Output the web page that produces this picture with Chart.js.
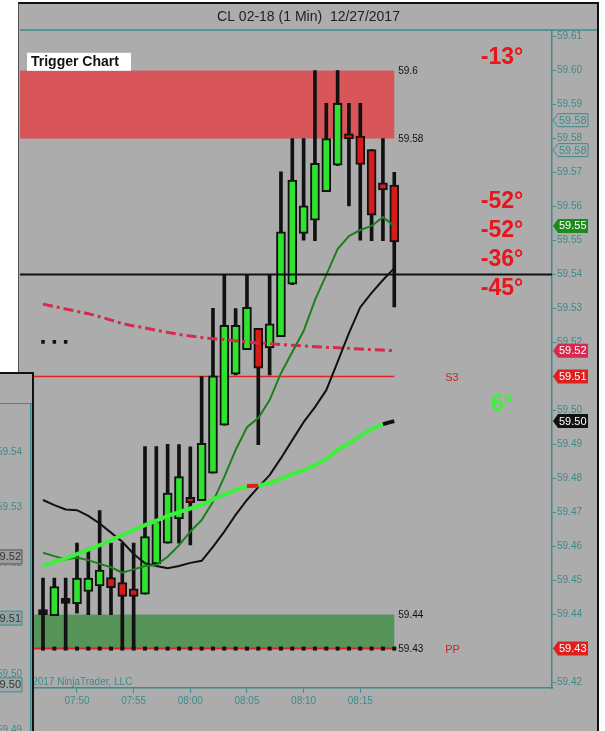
<!DOCTYPE html>
<html>
<head>
<meta charset="utf-8">
<script src="https://cdn.jsdelivr.net/npm/chart.js@4.4.1/dist/chart.umd.min.js"></script>
<style>
  html, body { margin: 0; padding: 0; background: #fff; }
  body { width: 605px; height: 731px; overflow: hidden; position: relative; }
  #win { position: absolute; left: 18px; top: 2px; width: 578px; height: 740px; background: #acacac;
         border-top: 2px solid #111; border-right: 2px solid #111; border-left: 1px solid #555; }
  #main { position: absolute; left: 1px; top: 0; }
  #side { position: absolute; left: 0; top: 372px; width: 32px; height: 370px; background: #acacac;
          border-top: 2px solid #111; border-right: 2px solid #111; overflow: hidden; z-index: 2; }
  #sideBar { position: absolute; left: 0; top: 29px; width: 32px; height: 1px; background: #3d8b8b; }
  #sideCv { position: absolute; left: -40px; top: 30px; }
</style>
</head>
<body>
<div id="win"><canvas id="main" width="577" height="727"></canvas></div>
<div id="side"><div id="sideBar"></div><canvas id="sideCv" width="73" height="327"></canvas></div>
<script>
// 1 minute bars, CL 02-18
const times = ['07:47','07:48','07:49','07:50','07:51','07:52','07:53','07:54','07:55','07:56',
               '07:57','07:58','07:59','08:00','08:01','08:02','08:03','08:04','08:05','08:06',
               '08:07','08:08','08:09','08:10','08:11','08:12','08:13','08:14','08:15','08:16',
               '08:17','08:18'];
const opens  = [59.4400,59.4397,59.4433,59.4432,59.4468,59.4484,59.4509,59.4494,59.4476,59.4460,
                59.4549,59.4610,59.4681,59.4745,59.4735,59.4816,59.4957,59.5107,59.5179,59.5242,
                59.5184,59.5217,59.5372,59.5521,59.5560,59.5644,59.5722,59.5813,59.5807,59.5768,
                59.5670,59.5663];
const highs  = [59.4507,59.4507,59.4507,59.4610,59.4595,59.4706,59.4610,59.4610,59.4610,59.4894,
                59.4894,59.4901,59.4900,59.4893,59.5100,59.5301,59.5400,59.5300,59.5400,59.5242,
                59.5400,59.5702,59.5800,59.5800,59.6000,59.5904,59.6000,59.5904,59.5904,59.5768,
                59.5800,59.5701];
const lows   = [59.4300,59.4397,59.4300,59.4404,59.4400,59.4400,59.4400,59.4300,59.4300,59.4460,
                59.4545,59.4610,59.4610,59.4605,59.4735,59.4816,59.4957,59.5105,59.5179,59.4900,
                59.5105,59.5217,59.5370,59.5501,59.5500,59.5644,59.5720,59.5602,59.5501,59.5500,
                59.5500,59.5305];
const closes = [59.4400,59.4482,59.4433,59.4507,59.4507,59.4531,59.4479,59.4453,59.4453,59.4629,
                59.4676,59.4757,59.4806,59.4729,59.4904,59.5102,59.5251,59.5251,59.5304,59.5125,
                59.5255,59.5526,59.5678,59.5602,59.5727,59.5800,59.5904,59.5799,59.5724,59.5575,
                59.5649,59.5496];

// indicator lines
const fastAvg  = [59.4582,59.4572,59.4562,59.4568,59.4560,59.4549,59.4539,59.4523,59.4533,59.4543,
                  59.4546,59.4570,59.4604,59.4644,59.4678,59.4732,59.4805,59.4884,59.4951,59.4978,
                  59.5031,59.5110,59.5172,59.5234,59.5325,59.5399,59.5475,59.5513,59.5531,59.5543,
                  59.5569,59.5543];
const midAvg   = [59.4737,59.4722,59.4709,59.4707,59.4690,59.4668,59.4641,59.4614,59.4578,59.4551,
                  59.4543,59.4536,59.4543,59.4552,59.4558,59.4599,59.4644,59.4693,59.4737,59.4775,
                  59.4810,59.4860,59.4913,59.4966,59.5010,59.5060,59.5143,59.5228,59.5304,59.5346,
                  59.5384,59.5419];
const trendAvg = [59.4543,59.4554,59.4565,59.4578,59.4591,59.4604,59.4619,59.4634,59.4649,59.4663,
                  59.4676,59.4690,59.4701,59.4712,59.4722,59.4739,59.4753,59.4766,59.4778,59.4779,
                  59.4787,59.4799,59.4813,59.4825,59.4840,59.4857,59.4884,59.4904,59.4925,59.4946,
                  59.4960,59.4969];
const slowAvg  = [59.5313,59.5306,59.5299,59.5292,59.5285,59.5276,59.5266,59.5256,59.5249,59.5243,
                  59.5236,59.5230,59.5224,59.5219,59.5215,59.5211,59.5209,59.5205,59.5202,59.5199,
                  59.5197,59.5194,59.5192,59.5190,59.5188,59.5186,59.5185,59.5183,59.5181,59.5179,
                  59.5178,59.5176];
const dotMarks = [59.5202, 59.5202, 59.5202];

// levels
const redZone = [59.58, 59.60];
const greenZone = [59.43, 59.44];
const crossLevel = 59.54;
const pivotLevels = [59.51, 59.43];
const pivotNames = ['S3', 'PP'];
const angleTexts = ['-13°', '-52°', '-52°', '-36°', '-45°', '6°'];
const outlineMarks = [59.5854, 59.5766];
const outlineMarkLabels = ['59.58', '59.58'];

// axes
const yTicks = [59.42,59.43,59.44,59.45,59.46,59.47,59.48,59.49,59.50,59.51,
                59.52,59.53,59.54,59.55,59.56,59.57,59.58,59.59,59.60,59.61];
const xTickLabels = ['07:50','07:55','08:00','08:05','08:10','08:15'];
const sideTicks = [59.54, 59.53, 59.52, 59.51, 59.50, 59.49];
const sideMarks = [59.5211, 59.5101, 59.4981];
const sideMarkLabels = ['59.52', '59.51', '59.50'];

const TEAL = '#3d8b8b';
const FONT = 'Arial, "Liberation Sans", sans-serif';
Chart.defaults.font.family = FONT;

const toMin = t => { const [h, m] = t.split(':').map(Number); return h * 60 + m; };
const fmt = v => {
  const h = Math.floor(v / 60), m = Math.round(v % 60);
  return String(h).padStart(2, '0') + ':' + String(m).padStart(2, '0');
};
const xs = times.map(toMin);
const pts = arr => arr.map((v, i) => ({ x: xs[i], y: v }));
const bodyColors = opens.map((o, i) => closes[i] > o ? '#2de32d' : closes[i] < o ? '#d91a1a' : '#111');

function tag(ctx, x, yv, w, h, fill, stroke, txt, txtColor) {
  ctx.beginPath();
  ctx.moveTo(x, yv);
  ctx.lineTo(x + 5, yv - h / 2);
  ctx.lineTo(x + w, yv - h / 2);
  ctx.lineTo(x + w, yv + h / 2);
  ctx.lineTo(x + 5, yv + h / 2);
  ctx.closePath();
  ctx.fillStyle = fill;
  ctx.fill();
  if (stroke) { ctx.strokeStyle = stroke; ctx.lineWidth = 1; ctx.stroke(); }
  ctx.fillStyle = txtColor;
  ctx.font = '11px ' + FONT;
  ctx.textAlign = 'left';
  ctx.textBaseline = 'middle';
  ctx.fillText(txt, x + 6, yv + 0.5);
}

const overlay = {
  id: 'overlay',
  beforeDatasetsDraw(chart) {
    const { ctx, chartArea: a, scales: { x, y } } = chart;
    const xEnd = x.getPixelForValue(xs[xs.length - 1]);
    ctx.save();
    // supply / demand zones
    let t = y.getPixelForValue(redZone[1]), b = y.getPixelForValue(redZone[0]);
    ctx.fillStyle = 'rgb(216,86,90)';
    ctx.fillRect(a.left, t, xEnd - a.left, b - t);
    t = y.getPixelForValue(greenZone[1]); b = y.getPixelForValue(greenZone[0]);
    ctx.fillStyle = 'rgb(86,148,90)';
    ctx.fillRect(a.left, t, xEnd - a.left, b - t);
    // S3
    const s3 = y.getPixelForValue(pivotLevels[0]);
    ctx.strokeStyle = '#e52222';
    ctx.lineWidth = 1.5;
    ctx.beginPath(); ctx.moveTo(a.left, s3); ctx.lineTo(xEnd, s3); ctx.stroke();
    // PP
    const pp = y.getPixelForValue(pivotLevels[1]);
    ctx.lineWidth = 2;
    ctx.beginPath(); ctx.moveTo(a.left, pp); ctx.lineTo(xEnd, pp); ctx.stroke();
    ctx.fillStyle = '#111';
    xs.forEach(v => { const px = x.getPixelForValue(v); ctx.fillRect(px - 2, pp - 2, 4, 4); });
    ctx.restore();
  },
  afterDatasetsDraw(chart) {
    const { ctx, chartArea: a, scales: { x, y } } = chart;
    const xEnd = x.getPixelForValue(xs[xs.length - 1]);
    ctx.save();
    // horizontal black line
    const cy = y.getPixelForValue(crossLevel);
    ctx.strokeStyle = '#111';
    ctx.lineWidth = 2;
    ctx.beginPath(); ctx.moveTo(a.left, cy); ctx.lineTo(a.right, cy); ctx.stroke();
    // zone labels
    ctx.fillStyle = '#111';
    ctx.font = '10px ' + FONT;
    ctx.textAlign = 'left';
    ctx.textBaseline = 'middle';
    ctx.fillText('59.6', xEnd + 4, y.getPixelForValue(redZone[1]) + 1);
    ctx.fillText('59.58', xEnd + 4, y.getPixelForValue(redZone[0]) + 1);
    ctx.fillText('59.44', xEnd + 4, y.getPixelForValue(greenZone[1]) + 1);
    ctx.fillText('59.43', xEnd + 4, y.getPixelForValue(greenZone[0]) + 1);
    // pivot names
    ctx.fillStyle = '#d42020';
    ctx.font = '11px ' + FONT;
    pivotNames.forEach((n, i) => ctx.fillText(n, xEnd + 51, y.getPixelForValue(pivotLevels[i]) + 1));
    // slope angles
    const angleY = [27, 171, 200, 229, 258, 374];
    ctx.font = 'bold 23px ' + FONT;
    ctx.textAlign = 'center';
    angleTexts.forEach((s, i) => {
      ctx.fillStyle = i === 5 ? '#3ef03e' : '#e8151b';
      ctx.fillText(s, a.right - 50, a.top + angleY[i]);
    });
    // chart name
    ctx.fillStyle = '#fff';
    ctx.fillRect(a.left + 7, a.top + 22, 104, 18);
    ctx.fillStyle = '#111';
    ctx.font = 'bold 14px ' + FONT;
    ctx.textAlign = 'left';
    ctx.fillText('Trigger Chart', a.left + 11, a.top + 31.5);
    // copyright
    ctx.fillStyle = TEAL;
    ctx.font = '10px ' + FONT;
    ctx.fillText('© 2017 NinjaTrader, LLC', a.left + 2, a.bottom - 6);
    ctx.restore();
  },
  afterDraw(chart) {
    const { ctx, chartArea: a, scales: { y } } = chart;
    ctx.save();
    // title separator
    ctx.fillStyle = TEAL;
    ctx.fillRect(0, a.top - 1.5, chart.width, 1.5);
    const x0 = a.right;
    outlineMarks.forEach((v, i) => tag(ctx, x0 + 1, y.getPixelForValue(v), 35, 13, '#acacac', TEAL, outlineMarkLabels[i], TEAL));
    tag(ctx, x0 + 1, y.getPixelForValue(fastAvg[fastAvg.length - 1]), 35, 14, '#1d8a1d', null, fastAvg[fastAvg.length - 1].toFixed(2), '#fff');
    tag(ctx, x0 + 1, y.getPixelForValue(slowAvg[slowAvg.length - 1]), 35, 14, '#d42a4e', null, slowAvg[slowAvg.length - 1].toFixed(2), '#fff');
    tag(ctx, x0 + 1, y.getPixelForValue(pivotLevels[0]), 35, 14, '#e01e1e', null, pivotLevels[0].toFixed(2), '#fff');
    tag(ctx, x0 + 1, y.getPixelForValue(trendAvg[trendAvg.length - 1]), 35, 14, '#111', null, trendAvg[trendAvg.length - 1].toFixed(2), '#fff');
    tag(ctx, x0 + 1, y.getPixelForValue(pivotLevels[1]), 35, 14, '#e01e1e', null, pivotLevels[1].toFixed(2), '#fff');
    ctx.restore();
  }
};

new Chart(document.getElementById('main'), {
  type: 'bar',
  data: {
    datasets: [
      { type: 'line', label: 'Trend', data: pts(trendAvg), borderColor: '#3cf03c', borderWidth: 4,
        pointRadius: 0, order: 0,
        segment: { borderColor: c => c.p0DataIndex === 18 ? '#e21b1b' : c.p0DataIndex === 30 ? '#111' : '#3cf03c' } },
      { type: 'line', label: 'Fast', data: pts(fastAvg), borderColor: '#1e7f1e', borderWidth: 2, pointRadius: 0, order: 1 },
      { type: 'line', label: 'Mid', data: pts(midAvg), borderColor: '#111', borderWidth: 2, pointRadius: 0, order: 1 },
      { type: 'line', label: 'Slow', data: pts(slowAvg), borderColor: '#d42a4e', borderWidth: 3,
        borderDash: [10, 4, 3, 4], pointRadius: 0, order: 1 },
      { type: 'line', label: 'Dots', data: pts(dotMarks), showLine: false, pointStyle: 'rect',
        pointRadius: 2.5, backgroundColor: '#111', borderWidth: 0, order: 1 },
      { type: 'bar', label: 'Body', data: xs.map((x, i) => ({ x, y: [opens[i], closes[i]] })),
        backgroundColor: bodyColors, borderColor: '#111', borderWidth: 2, borderSkipped: false,
        barThickness: 9, minBarLength: 5, grouped: false, order: 2 },
      { type: 'bar', label: 'Wick', data: xs.map((x, i) => ({ x, y: [lows[i], highs[i]] })),
        backgroundColor: '#111', borderWidth: 0, barThickness: 3, grouped: false, order: 3 }
    ]
  },
  options: {
    responsive: false,
    animation: false,
    devicePixelRatio: 1,
    layout: { padding: 0, autoPadding: false },
    plugins: {
      legend: { display: false },
      tooltip: { enabled: false },
      title: { display: true, text: 'CL 02-18 (1 Min)  12/27/2017', color: '#222',
               font: { size: 14, weight: 'normal' }, padding: { top: 5, bottom: 5 } }
    },
    scales: {
      x: {
        type: 'linear', offset: false, min: 464.97, max: 511.92,
        afterBuildTicks: s => { s.ticks = xTickLabels.map(t => ({ value: toMin(t) })); },
        afterFit: s => { s.height = 43; s.paddingLeft = 0; s.paddingRight = 0; },
        grid: { drawOnChartArea: false, offset: false, tickLength: 5, color: TEAL },
        border: { color: TEAL, width: 1.5 },
        ticks: { callback: v => fmt(v), color: TEAL, font: { size: 10 }, padding: 2, maxRotation: 0 }
      },
      y: {
        type: 'linear', position: 'right', min: 59.4184, max: 59.6117, beginAtZero: false,
        afterBuildTicks: s => { s.ticks = yTicks.map(v => ({ value: v })); },
        afterFit: s => { s.width = 45; },
        grid: { drawOnChartArea: false, tickLength: 4, color: TEAL },
        border: { color: TEAL, width: 1.5 },
        ticks: { callback: v => v.toFixed(2), color: TEAL, font: { size: 10 }, padding: 1 }
      }
    }
  },
  plugins: [overlay]
});

// partly hidden second chart window on the left
const sideTags = {
  id: 'sideTags',
  afterDraw(chart) {
    const { ctx, scales: { y } } = chart;
    ctx.save();
    const fills = ['#9c9c9c', '#8fa5a5', '#9fa9a9'];
    sideMarks.forEach((v, i) => {
      const py = y.getPixelForValue(v);
      ctx.fillStyle = fills[i];
      ctx.fillRect(y.right - 48, py - 7, 39, 14);
      ctx.strokeStyle = i === 0 ? '#555' : TEAL;
      ctx.lineWidth = 1;
      ctx.strokeRect(y.right - 48, py - 7, 39, 14);
      ctx.fillStyle = '#333';
      ctx.font = '11px ' + FONT;
      ctx.textAlign = 'right';
      ctx.textBaseline = 'middle';
      ctx.fillText(sideMarkLabels[i], y.right - 10, py + 0.5);
    });
    ctx.restore();
  }
};

new Chart(document.getElementById('sideCv'), {
  type: 'line',
  data: { datasets: [] },
  options: {
    responsive: false,
    animation: false,
    devicePixelRatio: 1,
    layout: { padding: 0, autoPadding: false },
    plugins: { legend: { display: false }, tooltip: { enabled: false } },
    scales: {
      x: { type: 'linear', display: false, min: 0, max: 1 },
      y: {
        type: 'linear', position: 'left', min: 59.4898, max: 59.5486,
        afterBuildTicks: s => { s.ticks = sideTicks.map(v => ({ value: v })); },
        afterFit: s => { s.width = 71; s.paddingTop = 0; s.paddingBottom = 0; },
        grid: { display: false, drawTicks: false },
        border: { display: true, color: TEAL, width: 1.5 },
        ticks: { callback: v => v.toFixed(2), color: TEAL, font: { size: 10 }, padding: 9 }
      }
    }
  },
  plugins: [sideTags]
});
</script>
</body>
</html>
